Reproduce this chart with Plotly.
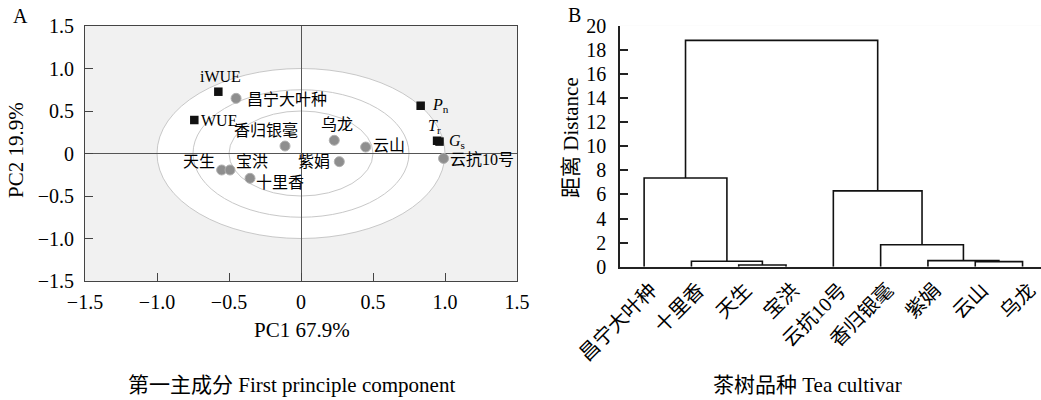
import plotly.graph_objects as go

# ---------------- Panel A data (PCA biplot) ----------------
cultivars = ['昌宁大叶种', '香归银毫', '乌龙', '云山', '云抗10号', '天生', '宝洪', '十里香', '紫娟']
cult_pc1 = [-0.451, -0.111, 0.231, 0.449, 0.990, -0.551, -0.493, -0.354, 0.266]
cult_pc2 = [0.649, 0.088, 0.155, 0.076, -0.058, -0.194, -0.194, -0.292, -0.096]

traits = ['iWUE', 'WUE', '<i>P</i><sub>n</sub>', '<i>T</i><sub>r</sub>', '<i>G</i><sub>s</sub>']
trait_pc1 = [-0.574, -0.741, 0.831, 0.945, 0.962]
trait_pc2 = [0.727, 0.394, 0.562, 0.150, 0.140]

circle_radii = [0.5, 0.75, 1.0]
pca_tickvals = [-1.5, -1.0, -0.5, 0, 0.5, 1.0, 1.5]
pca_ticktext = ['−1.5', '−1.0', '−0.5', '0', '0.5', '1.0', '1.5']

# ---------------- Panel B data (dendrogram) ----------------
leaf_order = ['昌宁大叶种', '十里香', '天生', '宝洪', '云抗10号', '香归银毫', '紫娟', '云山', '乌龙']
merge_left = ['天生', '十里香', '昌宁大叶种', '云山', '紫娟', '香归银毫', '云抗10号', 'C2']
merge_right = ['宝洪', 'C0', 'C1', '乌龙', 'C3', 'C4', 'C5', 'C6']
merge_height = [0.14, 0.45, 7.36, 0.42, 0.50, 1.82, 6.29, 18.78]
dist_tickvals = [0, 2, 4, 6, 8, 10, 12, 14, 16, 18, 20]

# ---------------- styles ----------------
FONT = 'Liberation Serif, Times New Roman, Noto Sans CJK SC'
W, H = 1041, 400

# label placement styles for panel A (xanchor, yanchor, xshift, yshift)
cult_label_style = [
    ('left', 'middle', 9, -1),
    ('right', 'bottom', 15, 5),
    ('center', 'bottom', 3, 5),
    ('left', 'middle', 5, 2),
    ('left', 'middle', 4, -1),
    ('right', 'middle', -5, 8),
    ('left', 'middle', 4, 8),
    ('left', 'middle', 4, -4),
    ('right', 'middle', -7, 0),
]
trait_label_style = [
    ('center', 'middle', 2, 15),
    ('left', 'middle', 5, 0),
    ('left', 'middle', 9, 0),
    ('center', 'middle', -3, 14),
    ('left', 'middle', 7, 0),
]

fig = go.Figure()

# Panel A markers
fig.add_trace(go.Scatter(
    x=cult_pc1, y=cult_pc2, mode='markers', xaxis='x', yaxis='y',
    marker=dict(symbol='circle', size=10, color='#8e8e8e', line=dict(color='#b0b0b0', width=1)),
    hoverinfo='skip', showlegend=False))
fig.add_trace(go.Scatter(
    x=trait_pc1, y=trait_pc2, mode='markers', xaxis='x', yaxis='y',
    marker=dict(symbol='square', size=8.5, color='#111111', line=dict(width=0)),
    hoverinfo='skip', showlegend=False))

# circles (correlation ellipses)
shapes = []
for r in sorted(circle_radii, reverse=True):
    shapes.append(dict(type='circle', xref='x', yref='y', x0=-r, x1=r, y0=-r, y1=r,
                       line=dict(color='#c8c8c8', width=1),
                       fillcolor='white' if r == max(circle_radii) else 'rgba(0,0,0,0)',
                       layer='below'))
# white background for panel B
shapes.append(dict(type='rect', xref='x2 domain', yref='y2 domain', x0=0, x1=1, y0=0, y1=1,
                   fillcolor='white', line=dict(width=0), layer='below'))

annotations = []
for name, x, y, st in zip(cultivars, cult_pc1, cult_pc2, cult_label_style):
    annotations.append(dict(x=x, y=y, xref='x', yref='y', text=name, showarrow=False,
                            xanchor=st[0], yanchor=st[1], xshift=st[2], yshift=st[3],
                            font=dict(family=FONT, size=16, color='black')))
for name, x, y, st in zip(traits, trait_pc1, trait_pc2, trait_label_style):
    annotations.append(dict(x=x, y=y, xref='x', yref='y', text=name, showarrow=False,
                            xanchor=st[0], yanchor=st[1], xshift=st[2], yshift=st[3],
                            font=dict(family=FONT, size=16, color='black')))

# Panel B dendrogram segments computed from merges
pos = {n: i for i, n in enumerate(leaf_order)}
hgt = {n: 0.0 for n in leaf_order}
dx, dy = [], []
for i, (a, b, h) in enumerate(zip(merge_left, merge_right, merge_height)):
    xa, xb = pos[a], pos[b]
    dx += [xa, xa, xb, xb, None]
    dy += [hgt[a], h, h, hgt[b], None]
    pos['C%d' % i] = (xa + xb) / 2
    hgt['C%d' % i] = h
fig.add_trace(go.Scatter(x=dx, y=dy, mode='lines', xaxis='x2', yaxis='y2',
                         line=dict(color='#111111', width=1.6),
                         hoverinfo='skip', showlegend=False))

def px(v):
    return v / W

def py(v):
    return 1 - v / H

# text annotations (paper)
def paper_text(text, x, y, size, angle=0):
    annotations.append(dict(x=px(x), y=py(y), xref='paper', yref='paper', text=text,
                            showarrow=False, xanchor='center', yanchor='middle',
                            textangle=angle, font=dict(family=FONT, size=size, color='black')))

paper_text('A', 20, 16, 20)
paper_text('B', 574, 15, 20)
paper_text('PC1 67.9%', 302, 330, 21)
paper_text('PC2 19.9%', 16, 150, 21, -90)
paper_text('第一主成分 First principle component', 291, 385, 21)
paper_text('距离 Distance', 571, 138, 21, -90)
paper_text('茶树品种 Tea cultivar', 807, 385, 21)

tickfont = dict(family=FONT, size=20, color='black')

fig.update_layout(
    width=W, height=H, margin=dict(l=0, r=0, t=0, b=0, autoexpand=False),
    paper_bgcolor='white', plot_bgcolor='#f1f1f1',
    shapes=shapes, annotations=annotations,
    xaxis=dict(domain=[px(85), px(517)], range=[-1.5, 1.5], tickvals=pca_tickvals,
               ticktext=pca_ticktext, ticks='inside', ticklen=8, tickcolor='#444',
               showline=True, linecolor='#444', linewidth=1, mirror=True,
               showgrid=False, zeroline=True, zerolinecolor='#555', zerolinewidth=1,
               tickfont=tickfont, ticklabelstandoff=3, anchor='y', fixedrange=True,
               automargin=False),
    yaxis=dict(domain=[py(281), py(26)], range=[-1.5, 1.5], tickvals=pca_tickvals,
               ticktext=pca_ticktext, ticks='inside', ticklen=8, tickcolor='#444',
               showline=True, linecolor='#444', linewidth=1, mirror=True,
               showgrid=False, zeroline=True, zerolinecolor='#555', zerolinewidth=1,
               tickfont=tickfont, ticklabelstandoff=6, anchor='x', fixedrange=True,
               automargin=False),
    xaxis2=dict(domain=[px(620), 1.0], range=[-0.51, 8.39], tickvals=list(range(len(leaf_order))),
                ticktext=leaf_order, tickangle=-45, ticks='', showline=True, linecolor='#222',
                linewidth=1.5, showgrid=False, zeroline=False,
                tickfont=dict(family=FONT, size=20, color='black'), anchor='y2', fixedrange=True,
                ticklabelshift=7, ticklabelstandoff=2, automargin=False),
    yaxis2=dict(domain=[py(266.7), py(25.7)], range=[0, 20], tickvals=dist_tickvals,
                ticks='inside', ticklen=8, tickcolor='#222', tickwidth=1.5,
                showline=True, linecolor='#222', linewidth=1.5, showgrid=False, zeroline=False,
                tickfont=tickfont, ticklabelstandoff=8, anchor='x2', fixedrange=True,
                automargin=False),
)

fig.write_html('out.html')
